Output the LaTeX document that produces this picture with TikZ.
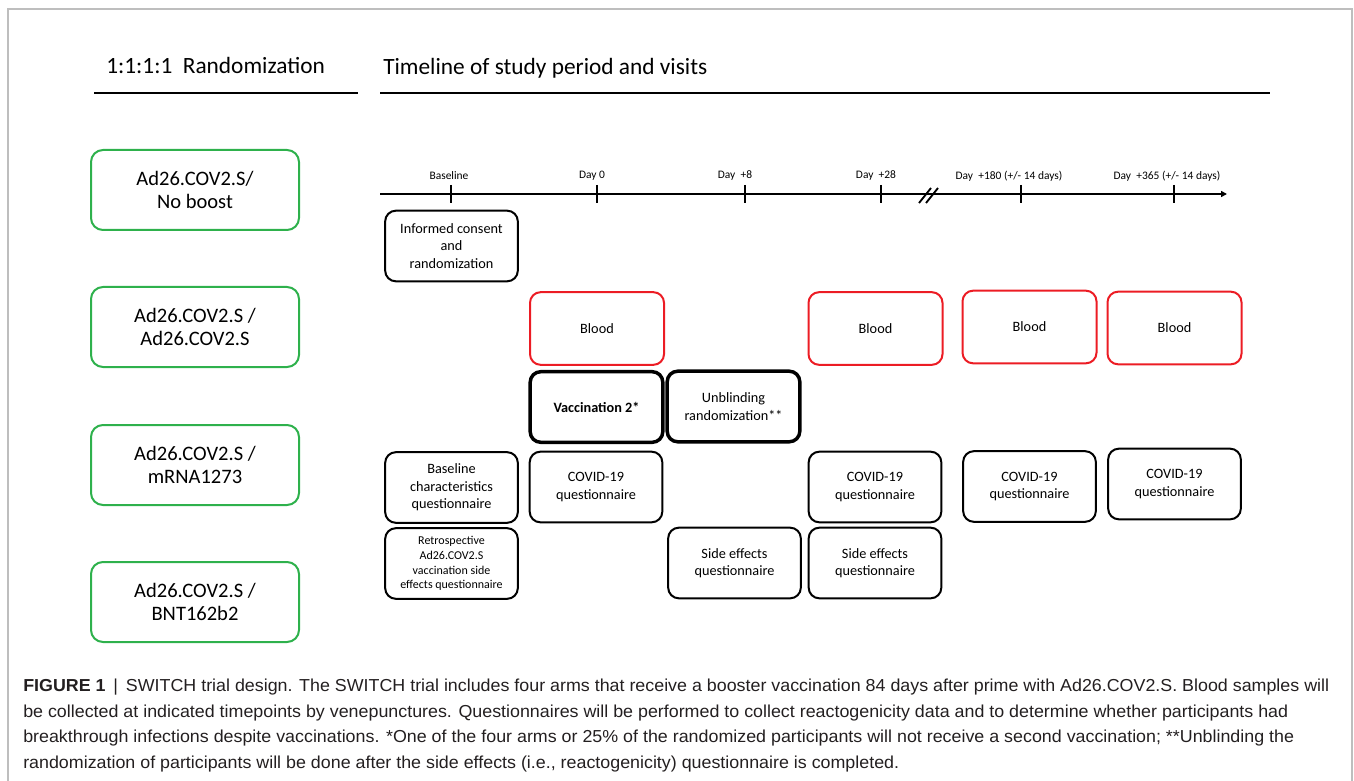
\documentclass[tikz,border=0pt]{standalone}
\usepackage{fontspec}
\setmainfont{Carlito}
\newfontfamily\capfont[FakeStretch=1.03]{Liberation Sans}
\usetikzlibrary{arrows.meta,positioning}
\definecolor{armgreen}{RGB}{46,177,76}
\definecolor{bloodred}{RGB}{236,28,36}
\definecolor{framegray}{RGB}{190,190,190}
\definecolor{captext}{RGB}{35,31,32}
\tikzset{
  frame/.style={draw=framegray,line width=1.1pt},
  rule/.style={black,line width=1.4pt},
  timeline/.style={-{Triangle[length=4.5pt,width=4.5pt]},line width=1.4pt},
  tick/.style={line width=1.8pt},
  head/.style={font=\fontsize{17.5}{21}\selectfont,inner sep=0pt},
  daylab/.style={font=\fontsize{8.6}{10}\selectfont,inner sep=0pt},
  arm/.style={draw=armgreen,line width=1.5pt,rounded corners=9pt,minimum width=156pt,
              minimum height=60pt,align=center,font=\fontsize{15.4}{16.8}\selectfont},
  visit/.style={draw=black,line width=1.5pt,rounded corners=8pt,minimum width=99.5pt,
                minimum height=53pt,align=center,inner sep=1pt,font=\fontsize{10.7}{13}\selectfont},
  blood/.style={visit,draw=bloodred,minimum width=100.5pt,minimum height=54.5pt},
  keyvisit/.style={visit,line width=2.6pt},
  smallvisit/.style={visit,font=\fontsize{9}{11}\selectfont},
  caption/.style={font=\capfont\fontsize{13}{19.1}\selectfont,text=captext,align=left,inner sep=0pt},
}
\begin{document}
\begin{tikzpicture}[x=0.75pt,y=-0.75pt]
  \path[use as bounding box] (0,0) rectangle (1354,781);
  \draw[frame] (8,781) -- (8,9) -- (1352,9) -- (1352,781);

  % headers
  \node[head,anchor=west] (hrand) at (106,65) {1:1:1:1\ \ Randomization};
  \node[head,anchor=west] (htime) at (383,68) {Timeline of study period and visits};
  \draw[rule] (94,93) -- (358,93);
  \draw[rule] (380,93) -- (1270,93);

  % randomization arms
  \node[arm] (arm1) at (195,190) {Ad26.COV2.S/\\No boost};
  \node[arm] (arm2) at (195,327) {Ad26.COV2.S /\\Ad26.COV2.S};
  \node[arm] (arm3) at (195,465) {Ad26.COV2.S /\\mRNA1273};
  \node[arm] (arm4) at (195,602) {Ad26.COV2.S /\\BNT162b2};

  % timeline
  \coordinate (tlstart) at (380,194);
  \coordinate (tlend) at (1227,194);
  \draw[timeline] (tlstart) -- (tlend);
  \foreach \tx in {451,597,745,881,1021,1174}
    \draw[tick] (\tx,185) -- (\tx,203);
  \draw[tick,line width=1.4pt] (919,203) -- (931,188);
  \draw[tick,line width=1.4pt] (926,203) -- (938,188);
  \node[daylab] (lbase) at (449,176) {Baseline};
  \node[daylab] (lday0) at (592,176) {Day 0};
  \node[daylab] (lday8) at (735,176) {Day\ \ +8};
  \node[daylab] (lday28) at (876,176) {Day\ \ +28};
  \node[daylab] (lday180) at (1009,176) {Day\ \ +180 (+/- 14 days)};
  \node[daylab] (lday365) at (1167,176) {Day\ \ +365 (+/- 14 days)};

  % visits
  \node[visit] (consent) at (451.5,246) {Informed consent\\and\\randomization};
  \node[blood] (blood0) at (597,328.5) {Blood};
  \node[blood] (blood28) at (875.5,328.5) {Blood};
  \node[blood] (blood180) at (1029.5,327) {Blood};
  \node[blood] (blood365) at (1174.5,328) {Blood};
  \node[keyvisit,font=\fontsize{10.7}{13}\selectfont\bfseries] (vacc) at (596.5,407) {Vaccination 2*};
  \node[keyvisit] (unblind) at (733.5,406.5) {Unblinding\\randomization**};
  \node[visit] (basechar) at (451.5,487.5) {Baseline\\characteristics\\questionnaire};
  \node[visit] (covid0) at (596,487) {COVID-19\\questionnaire};
  \node[visit] (covid28) at (875,487) {COVID-19\\questionnaire};
  \node[visit] (covid180) at (1029.5,486.5) {COVID-19\\questionnaire};
  \node[visit] (covid365) at (1174.5,484) {COVID-19\\questionnaire};
  \node[smallvisit] (retro) at (451.5,563.5) {Retrospective\\Ad26.COV2.S\\vaccination side\\effects questionnaire};
  \node[visit] (side8) at (734.5,563) {Side effects\\questionnaire};
  \node[visit] (side28) at (875,563) {Side effects\\questionnaire};

  % caption
  \node[caption,anchor=north west] (cap) at (23,679)
    {\textbf{FIGURE 1} \,|\, SWITCH trial design. The SWITCH trial includes four arms that receive a booster vaccination 84 days after prime with Ad26.COV2.S. Blood samples will\\
     be collected at indicated timepoints by venepunctures. Questionnaires will be performed to collect reactogenicity data and to determine whether participants had\\
     breakthrough infections despite vaccinations. *One of the four arms or 25\% of the randomized participants will not receive a second vaccination; **Unblinding the\\
     randomization of participants will be done after the side effects (i.e., reactogenicity) questionnaire is completed.};
\end{tikzpicture}
\end{document}
